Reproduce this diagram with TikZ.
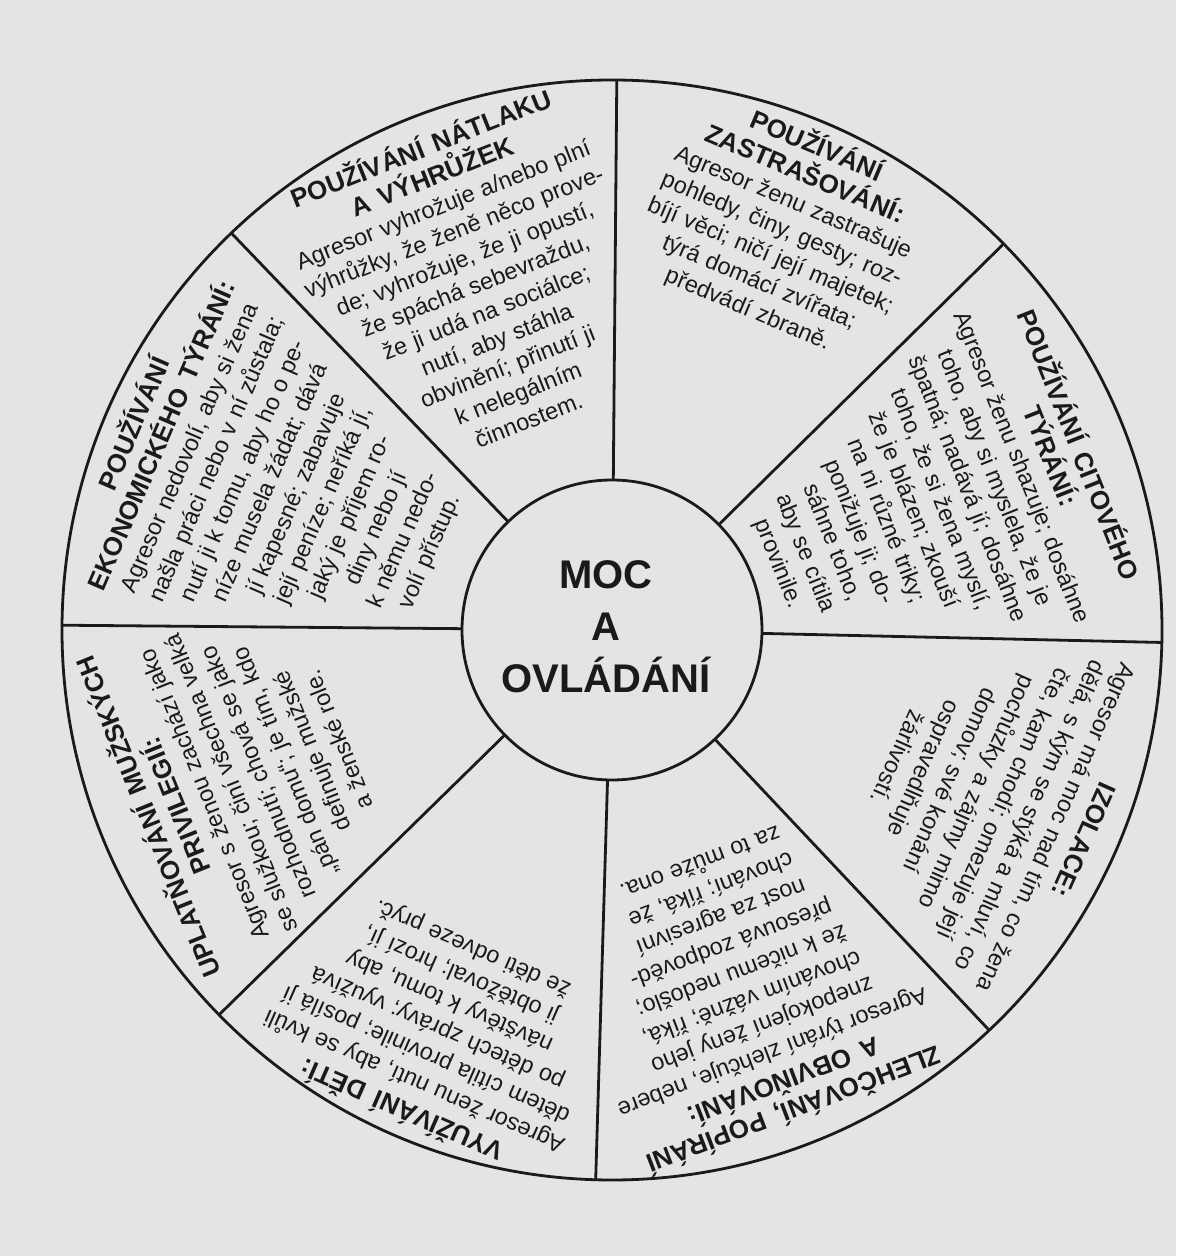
\documentclass[tikz,border=0pt]{standalone}
\usepackage{fontspec}
\setmainfont{Liberation Sans}
\setlength{\parindent}{0pt}
\definecolor{paper}{RGB}{228,228,228}
\definecolor{ink}{RGB}{26,26,26}
\newcommand\sectitle{\fontsize{26}{30}\selectfont\bfseries\spaceskip=0.42em\relax}
\newcommand\sectext{\fontsize{23.5}{29}\selectfont\mdseries\spaceskip=0.31em\relax}
\tikzset{
sector/.style={text width=440pt, align=center, inner sep=0pt, anchor=north, text=ink},
rim/.style={line width=2.8pt, draw=ink}
}

\begin{document}
\begin{tikzpicture}[x=1pt,y=1pt]

\fill[paper] (-612,-626) rectangle (564,630);

\foreach \a [count=\i] in {89.5,133.8,179.5,224.4,268.3,313.3,358.7,44.6}
{
\coordinate (p\i) at (\a:150);
\coordinate (q\i) at (\a:550);
}

\draw[rim] (0,0) circle (550);
\draw[rim] (0,0) circle (150);
\foreach \i in {1,...,8}
{
\draw[rim] (p\i)--(q\i);
}

\node[font=\bfseries\fontsize{40}{52}\selectfont, align=center, text=ink] (moc) at (-6,3) {MOC\\A\\OVLÁDÁNÍ};

\node[sector, rotate=21.65] (s1) at (111.65:532) {{\sectitle POUŽÍVÁNÍ NÁTLAKU\\A VÝHRŮŽEK\par}{\sectext Agresor vyhrožuje a/nebo plní\\výhrůžky, že ženě něco prove-\\de; vyhrožuje, že ji opustí,\\že spáchá sebevraždu,\\že ji udá na sociálce;\\nutí, aby stáhla\\obvinění; přinutí ji\\k nelegálním\\činnostem.\par}};

\node[sector, rotate=-22.95] (s2) at (67.05:540) {{\sectitle POUŽÍVÁNÍ\\ZASTRAŠOVÁNÍ:\par}{\sectext Agresor ženu zastrašuje\\pohledy, činy, gesty; roz-\\bíjí věci; ničí její majetek;\\týrá domácí zvířata;\\předvádí zbraně.\par}};

\node[sector, rotate=-68.35] (s3) at (21.65:516) {{\sectitle POUŽÍVÁNÍ CITOVÉHO\\TÝRÁNÍ:\par}{\sectext Agresor ženu shazuje; dosáhne\\toho, aby si myslela, že je\\špatná; nadává jí; dosáhne\\toho, že si žena myslí,\\že je blázen; zkouší\\na ni různé triky;\\ponižuje ji; do-\\sáhne toho,\\aby se cítila\\provinile.\par}};

\node[sector, rotate=246] (s4) at (336:526) {{\sectitle IZOLACE:\par}{\sectext Agresor má moc nad tím, co žena\\dělá, s kým se stýká a mluví, co\\čte, kam chodí; omezuje její\\pochůzky a zájmy mimo\\domov; své konání\\ospravedlňuje\\žárlivostí.\par}};

\node[sector, rotate=200.8] (s5) at (290.8:527) {{\sectitle ZLEHČOVÁNÍ, POPÍRÁNÍ\\A OBVIŇOVÁNÍ:\par}{\sectext Agresor týrání zlehčuje, nebere\\znepokojení ženy jeho\\chováním vážně; říká,\\že k ničemu nedošlo;\\přesouvá zodpověd-\\nost za agresivní\\chování; říká, že\\za to může ona.\par}};

\node[sector, rotate=156.35] (s6) at (246.35:538) {{\sectitle VYUŽÍVÁNÍ DĚTÍ:\par}{\sectext Agresor ženu nutí, aby se kvůli\\dětem cítila provinile; posílá jí\\po dětech zprávy; využívá\\návštěvy k tomu, aby\\ji obtěžoval; hrozí jí,\\že děti odveze pryč.\par}};

\node[sector, rotate=111.95] (s7) at (201.95:514) {{\sectitle UPLATŇOVÁNÍ MUŽSKÝCH\\PRIVILEGIÍ:\par}{\sectext Agresor s ženou zachází jako\\se služkou; činí všechna velká\\rozhodnutí; chová se jako\\„pán domu“; je tím, kdo\\definuje mužské\\a ženské role.\par}};

\node[sector, rotate=66.65] (s8) at (156.65:535) {{\sectitle POUŽÍVÁNÍ\\EKONOMICKÉHO TÝRÁNÍ:\par}{\sectext Agresor nedovolí, aby si žena\\našla práci nebo v ní zůstala;\\nutí ji k tomu, aby ho o pe-\\níze musela žádat; dává\\jí kapesné; zabavuje\\její peníze; neříká jí,\\jaký je příjem ro-\\diny nebo jí\\k němu nedo-\\volí přístup.\par}};

\end{tikzpicture}
\end{document}
